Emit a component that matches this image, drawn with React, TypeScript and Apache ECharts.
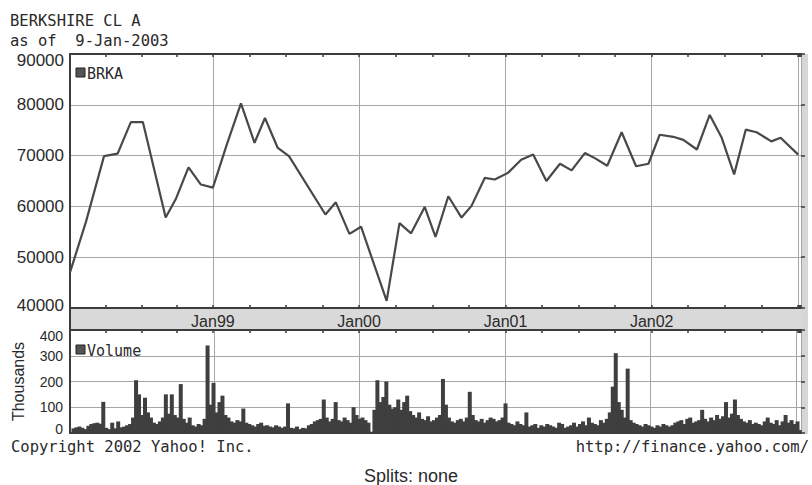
import React, { useEffect, useRef } from "react";
import * as echarts from "echarts";

const titleText = "BERKSHIRE CL A";
const subtitleText = "as of  9-Jan-2003";
const priceName = "BRKA";
const volumeName = "Volume";
const volumeAxisName = "Thousands";
const copyrightText = "Copyright 2002 Yahoo! Inc.";
const sourceText = "http://finance.yahoo.com/";
const splitsText = "Splits: none";

const xStart = "1998-01-09";
const xEnd = "2003-01-09";
const labeledYears = [1999, 2000, 2001, 2002];

const priceTicks = [40000, 50000, 60000, 70000, 80000, 90000];
const volumeTicks = [0, 100, 200, 300, 400];

const priceDates = [
  "1998-01-09", "1998-02-18", "1998-04-04", "1998-05-08", "1998-06-10", "1998-07-10",
  "1998-09-05", "1998-09-30", "1998-11-01", "1998-12-02", "1999-01-01", "1999-02-04",
  "1999-03-12", "1999-04-15", "1999-05-11", "1999-06-12", "1999-07-10", "1999-10-09",
  "1999-11-04", "1999-12-08", "2000-01-06", "2000-03-10", "2000-04-11", "2000-05-10",
  "2000-06-13", "2000-07-10", "2000-08-11", "2000-09-13", "2000-10-08", "2000-11-10",
  "2000-12-05", "2001-01-07", "2001-02-09", "2001-03-11", "2001-04-13", "2001-05-17",
  "2001-06-15", "2001-07-18", "2001-08-12", "2001-09-12", "2001-10-18", "2001-11-23",
  "2001-12-24", "2002-01-21", "2002-02-24", "2002-03-21", "2002-04-24", "2002-05-26",
  "2002-06-25", "2002-07-26", "2002-08-24", "2002-09-20", "2002-10-27", "2002-11-19",
  "2003-01-02",
];

const priceValues = [
  47000, 57000, 69900, 70400, 76600, 76600,
  57800, 61400, 67700, 64300, 63700, 72000,
  80300, 72500, 77400, 71500, 69900, 58400,
  60800, 54600, 56000, 41400, 56700, 54700,
  59900, 54000, 62000, 57800, 60100, 65600,
  65300, 66600, 69200, 70200, 65000, 68400,
  67100, 70500, 69500, 68000, 74600, 67900,
  68400, 74100, 73700, 73100, 71200, 78000,
  73500, 66300, 75100, 74600, 72800, 73500,
  70200,
];

// volume in thousands, one value per ~week from xStart to xEnd
const volumeValues = [
  18, 22, 25, 20, 15, 28, 35, 38, 40, 36,
  121, 20, 15, 40, 18, 45, 22, 25, 30, 35,
  60, 205, 150, 70, 137, 80, 60, 40, 35, 45,
  60, 150, 75, 150, 70, 60, 190, 55, 40, 60,
  30, 25, 35, 30, 55, 340, 110, 195, 80, 120,
  145, 70, 60, 45, 40, 50, 45, 95, 40, 35,
  30, 25, 35, 40, 28, 30, 25, 22, 30, 25,
  20, 25, 115, 20, 18, 25, 15, 20, 18, 30,
  35, 45, 50, 55, 130, 60, 45, 55, 120, 50,
  45, 60, 50, 40, 100, 70, 55, 60, 50, 40,
  5, 90, 205, 120, 140, 200, 110, 95, 100, 130,
  90, 120, 145, 85, 70, 60, 80, 55, 50, 65,
  45, 50, 60, 70, 210, 110, 60, 45, 40, 50,
  55, 45, 60, 160, 70, 50, 45, 55, 40, 50,
  60, 55, 45, 50, 60, 115, 40, 35, 30, 45,
  35, 30, 80, 25, 30, 35, 20, 30, 25, 35,
  30, 25, 20, 40, 35, 20, 25, 30, 40, 25,
  35, 45, 30, 60, 40, 35, 30, 50, 40, 55,
  80, 180, 310, 120, 90, 60, 250, 50, 40, 35,
  30, 25, 35, 30, 25, 20, 30, 25, 35, 30,
  25, 30, 40, 45, 50, 35, 55, 60, 40, 45,
  50, 90, 55, 45, 60, 50, 70, 55, 65, 120,
  60, 75, 130, 70, 55, 45, 40, 50, 35, 40,
  35, 30, 45, 60, 40, 35, 50, 30, 45, 70,
  40, 50, 35, 45,
];

const DAY = 86400000;
const YEAR = 365.25 * DAY;

function ts(s: string): number {
  const [y, m, d] = s.split("-").map(Number);
  return new Date(y, m - 1, d).getTime();
}

const mono = "'DejaVu Sans Mono', 'Liberation Mono', monospace";
const sans = "'Liberation Sans', Arial, sans-serif";
const axisDark = "#3c3c3c";
const gridGrey = "#a6a6a6";
const textColor = "#2a2a2a";

export default function App() {
  const ref = useRef<HTMLDivElement>(null);

  useEffect(() => {
    document.body.style.margin = "0";
    if (!ref.current) return;
    const chart = echarts.init(ref.current, undefined, { renderer: "svg" });

    const t0 = ts(xStart);
    const t1 = ts(xEnd);
    const step = (t1 - t0) / volumeValues.length;
    const volumeData = volumeValues.map((v, i) => [t0 + (i + 0.5) * step, v]);
    const priceData = priceDates.map((d, i) => [ts(d), priceValues[i]]);

    const pMin = priceTicks[0];
    const pMax = priceTicks[priceTicks.length - 1];
    const vMin = volumeTicks[0];
    const vMax = volumeTicks[volumeTicks.length - 1];

    const yearLabel = (val: number) => {
      const d = new Date(val);
      const y = d.getFullYear();
      if (labeledYears.indexOf(y) < 0) return "";
      return "Jan" + String(y).slice(2);
    };

    const timeAxisBase = (grid: number, position: "top" | "bottom", labels: boolean, split: boolean) => ({
      type: "time",
      gridIndex: grid,
      position,
      min: t0,
      max: t1,
      minInterval: YEAR,
      maxInterval: YEAR,
      axisLine: { show: true, onZero: false, lineStyle: { color: axisDark, width: 2 } },
      axisTick: { show: true, inside: true, length: 3, lineStyle: { color: axisDark, width: 1.5 } },
      minorTick: { show: true, splitNumber: 4, length: 3, lineStyle: { color: axisDark, width: 1.5 } },
      axisLabel: labels
        ? { show: true, formatter: yearLabel, color: textColor, fontFamily: sans, fontSize: 16, margin: 5 }
        : { show: false },
      splitLine: { show: split, lineStyle: { color: gridGrey, width: 1 } },
    });

    const option: any = {
      animation: false,
      backgroundColor: "#ffffff",
      grid: [
        { left: 70, right: 11, top: 54, height: 254 },
        { left: 70, right: 11, top: 330, height: 103 },
      ],
      xAxis: [
        timeAxisBase(0, "bottom", true, true),
        timeAxisBase(0, "top", false, false),
        timeAxisBase(1, "bottom", false, true),
        timeAxisBase(1, "top", false, false),
      ],
      yAxis: [
        {
          type: "value",
          gridIndex: 0,
          min: pMin,
          max: pMax,
          interval: 10000,
          axisLine: { show: true, lineStyle: { color: axisDark, width: 2 } },
          axisTick: { show: false },
          axisLabel: {
            color: textColor,
            fontFamily: sans,
            fontSize: 17,
            margin: 6,
            formatter: (v: number) =>
              v === pMax ? `{t|${v}}` : v === pMin ? `{b|${v}}` : `${v}`,
            rich: {
              t: { padding: [12, 0, 0, 0], color: textColor, fontFamily: sans, fontSize: 17 },
              b: { padding: [0, 0, 5, 0], color: textColor, fontFamily: sans, fontSize: 17 },
            },
          },
          splitLine: { show: true, lineStyle: { color: gridGrey, width: 1 } },
        },
        {
          type: "value",
          gridIndex: 1,
          min: vMin,
          max: vMax,
          interval: 100,
          name: volumeAxisName,
          nameLocation: "middle",
          nameGap: 44,
          nameTextStyle: { color: textColor, fontFamily: sans, fontSize: 16 },
          axisLine: { show: true, lineStyle: { color: axisDark, width: 2 } },
          axisTick: { show: false },
          axisLabel: {
            color: textColor,
            fontFamily: sans,
            fontSize: 14,
            margin: 7,
            formatter: (v: number) =>
              v === vMax ? `{t|${v}}` : v === vMin ? `{b|${v}}` : `${v}`,
            rich: {
              t: { padding: [12, 0, 0, 0], color: textColor, fontFamily: sans, fontSize: 14 },
              b: { padding: [0, 0, 9, 0], color: textColor, fontFamily: sans, fontSize: 14 },
            },
          },
          splitLine: { show: true, lineStyle: { color: gridGrey, width: 1 } },
        },
        {
          type: "value",
          gridIndex: 0,
          position: "right",
          min: pMin,
          max: pMax,
          interval: 10000,
          axisLine: { show: false },
          axisTick: { show: true, inside: false, length: 4, lineStyle: { color: axisDark, width: 1.5 } },
          axisLabel: { show: false },
          splitLine: { show: false },
        },
        {
          type: "value",
          gridIndex: 1,
          position: "right",
          min: vMin,
          max: vMax,
          interval: 100,
          axisLine: { show: false },
          axisTick: { show: true, inside: false, length: 4, lineStyle: { color: axisDark, width: 1.5 } },
          axisLabel: { show: false },
          splitLine: { show: false },
        },
      ],
      series: [
        {
          name: priceName,
          type: "line",
          xAxisIndex: 0,
          yAxisIndex: 0,
          data: priceData,
          showSymbol: false,
          symbol: "none",
          lineStyle: { color: "#484848", width: 2.2 },
          z: 5,
        },
        {
          name: volumeName,
          type: "bar",
          xAxisIndex: 2,
          yAxisIndex: 1,
          data: volumeData,
          barWidth: 4,
          itemStyle: { color: "#3f3f3f" },
          z: 5,
        },
      ],
      graphic: [
        { type: "rect", z: -1, shape: { x: 70, y: 309, width: 738, height: 20 }, style: { fill: "#d9d9d9" } },
        { type: "rect", z: -1, shape: { x: 801, y: 54, width: 7, height: 380 }, style: { fill: "#d6d6d6" } },
        { type: "line", shape: { x1: 70, y1: 307, x2: 70, y2: 331 }, style: { stroke: axisDark, lineWidth: 2 } },
        {
          type: "rect",
          shape: { x: 76, y: 68, width: 9, height: 9 },
          style: { fill: "#555555", stroke: "#222222", lineWidth: 1 },
        },
        {
          type: "text",
          x: 87,
          y: 74,
          style: { text: priceName, fontFamily: mono, fontSize: 15, fill: textColor, verticalAlign: "middle" },
        },
        {
          type: "rect",
          shape: { x: 76, y: 345, width: 9, height: 9 },
          style: { fill: "#555555", stroke: "#222222", lineWidth: 1 },
        },
        {
          type: "text",
          x: 87,
          y: 351,
          style: { text: volumeName, fontFamily: mono, fontSize: 15, fill: textColor, verticalAlign: "middle" },
        },
        {
          type: "text",
          x: 10,
          y: 21,
          style: { text: titleText, fontFamily: mono, fontSize: 15.5, fill: textColor, verticalAlign: "middle" },
        },
        {
          type: "text",
          x: 10,
          y: 41,
          style: { text: subtitleText, fontFamily: mono, fontSize: 15.5, fill: textColor, verticalAlign: "middle" },
        },
        {
          type: "text",
          x: 11,
          y: 447,
          style: { text: copyrightText, fontFamily: mono, fontSize: 15.5, fill: textColor, verticalAlign: "middle" },
        },
        {
          type: "text",
          x: 809,
          y: 447,
          style: {
            text: sourceText,
            fontFamily: mono,
            fontSize: 15.5,
            fill: textColor,
            align: "right",
            verticalAlign: "middle",
          },
        },
        {
          type: "text",
          x: 411,
          y: 476,
          style: {
            text: splitsText,
            fontFamily: sans,
            fontSize: 18,
            fill: textColor,
            align: "center",
            verticalAlign: "middle",
          },
        },
      ],
    };

    chart.setOption(option);
    return () => chart.dispose();
  }, []);

  return (
    <div
      ref={ref}
      style={{ position: "absolute", left: 0, top: 0, width: 812, height: 485 }}
    />
  );
}
